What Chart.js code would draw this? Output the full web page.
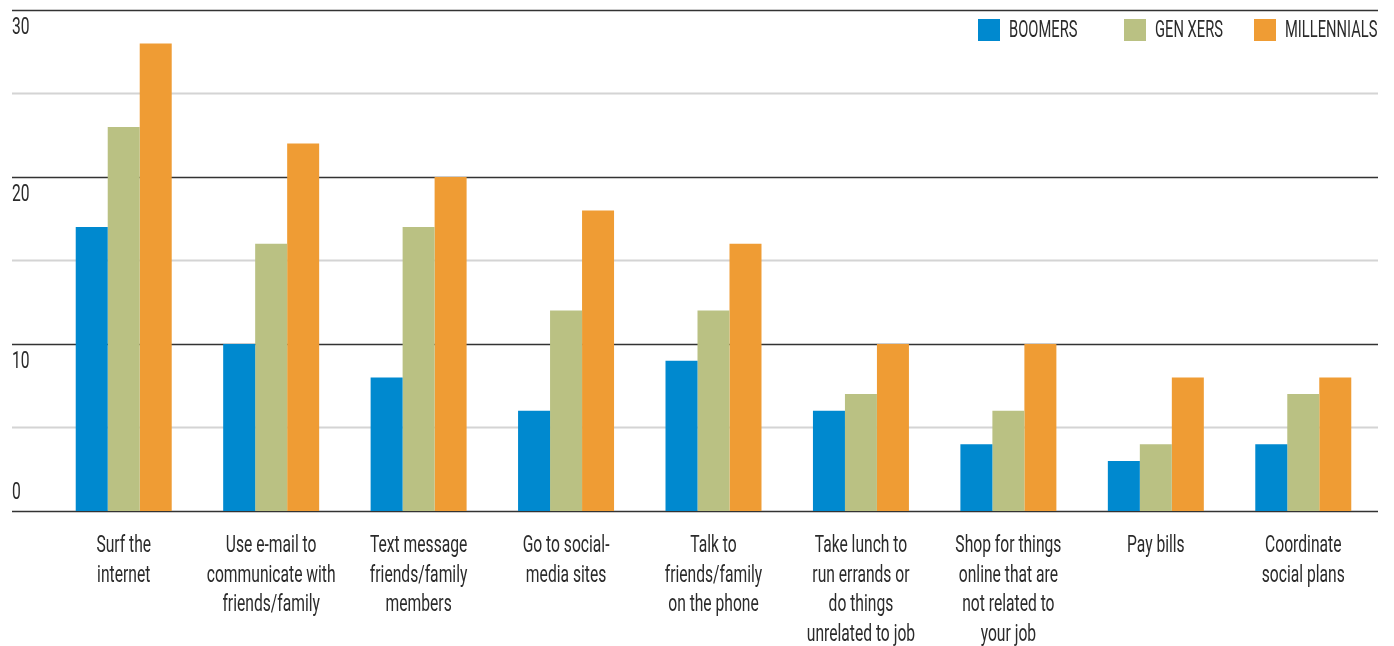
<!DOCTYPE html>
<html>
<head>
<meta charset="utf-8">
<script src="https://cdn.jsdelivr.net/npm/chart.js@4"></script>
<style>
  body { margin: 0; background: #fff; }
  #wrap { position: relative; width: 1394px; height: 646px; }
  .legend { position: absolute; top: 19px; left: 0; font-family: Roboto, sans-serif; font-size: 23px; color: #2b2b2b; }
  .legend span.box { position: absolute; width: 22px; height: 22px; top: 0; }
  .legend span.txt { position: absolute; top: 0; line-height: 22px; white-space: nowrap; transform: scaleX(0.64); transform-origin: left center; }
</style>
</head>
<body>
<div id="wrap">
  <canvas id="grafico"></canvas>
  <div class="legend" id="leyenda"></div>
</div>
<script>
// datos
const categorias = [
  ["Surf the", "internet"],
  ["Use e-mail to", "communicate with", "friends/family"],
  ["Text message", "friends/family", "members"],
  ["Go to social-", "media sites"],
  ["Talk to", "friends/family", "on the phone"],
  ["Take lunch to", "run errands or", "do things", "unrelated to job"],
  ["Shop for things", "online that are", "not related to", "your job"],
  ["Pay bills"],
  ["Coordinate", "social plans"]
];
const boomers     = [17, 10, 8, 6, 9, 6, 4, 3, 4];
const genXers     = [23, 16, 17, 12, 12, 7, 6, 4, 7];
const millennials = [28, 22, 20, 18, 16, 10, 10, 8, 8];
const ticksMayores = [0, 10, 20, 30];
const ticksMenores = [5, 15, 25];

const series = [
  { label: "BOOMERS", data: boomers, color: "#0089cf", x: 978 },
  { label: "GEN XERS", data: genXers, color: "#bac183", x: 1124 },
  { label: "MILLENNIALS", data: millennials, color: "#ef9c34", x: 1254 }
];

const fuente = "23px Roboto, sans-serif";
const estrecho = 0.68; // la fuente original es muy condensada

// leyenda
const leyenda = document.getElementById("leyenda");
series.forEach(s => {
  leyenda.innerHTML += `<span class="box" style="left:${s.x}px;background:${s.color}"></span>` +
    `<span class="txt" style="left:${s.x + 31}px">${s.label}</span>`;
});

function texto(ctx, t, x, y, align) {
  ctx.save();
  ctx.translate(x, y);
  ctx.scale(estrecho, 1);
  ctx.textAlign = align;
  ctx.fillText(t, 0, 0);
  ctx.restore();
}

// rejilla y etiquetas
const rejilla = {
  id: "rejilla",
  beforeDatasetsDraw(chart) {
    const ctx = chart.ctx;
    const y = chart.scales.y;
    const x0 = 12, x1 = 1378;
    ctx.save();
    ticksMenores.forEach(v => {
      const py = y.getPixelForValue(v);
      ctx.strokeStyle = "#d4d4d4";
      ctx.lineWidth = 2;
      ctx.beginPath(); ctx.moveTo(x0, py); ctx.lineTo(x1, py); ctx.stroke();
    });
    ctx.fillStyle = "#2b2b2b";
    ctx.font = fuente;
    ctx.textBaseline = "middle";
    ticksMayores.forEach(v => {
      const py = Math.round(y.getPixelForValue(v)) + 0.5;
      ctx.strokeStyle = "#333";
      ctx.lineWidth = 1.5;
      ctx.beginPath(); ctx.moveTo(x0, py); ctx.lineTo(x1, py); ctx.stroke();
      texto(ctx, String(v), x0, v === 0 ? py - 18 : py + 18, "left");
    });
    ctx.restore();
  },
  afterDraw(chart) {
    const ctx = chart.ctx;
    const x = chart.scales.x;
    const base = chart.chartArea.bottom;
    ctx.save();
    ctx.fillStyle = "#2b2b2b";
    ctx.font = fuente;
    ctx.textBaseline = "middle";
    categorias.forEach((lineas, i) => {
      const cx = x.getPixelForValue(i);
      lineas.forEach((l, k) => texto(ctx, l, cx, base + 35.5 + k * 29.6, "center"));
    });
    ctx.restore();
  }
};

new Chart(document.getElementById("grafico"), {
  type: "bar",
  data: {
    labels: categorias.map(c => c.join(" ")),
    datasets: series.map(s => ({
      label: s.label,
      data: s.data,
      backgroundColor: s.color,
      borderWidth: 0,
      barPercentage: 1,
      categoryPercentage: 0.651
    }))
  },
  options: {
    responsive: true,
    maintainAspectRatio: false,
    animation: false,
    layout: { padding: { left: 50, right: 17, top: 10, bottom: 135 } },
    plugins: { legend: { display: false }, tooltip: { enabled: false } },
    scales: {
      x: { display: false },
      y: { display: false, min: 0, max: 30 }
    }
  },
  plugins: [rejilla]
});
</script>
</body>
</html>
